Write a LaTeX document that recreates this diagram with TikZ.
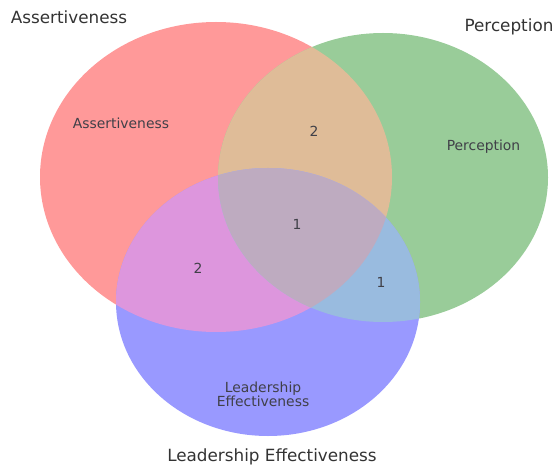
\documentclass[tikz,border=0pt]{standalone}
\usepackage{fontspec}
\setmainfont{DejaVu Sans}
\definecolor{ronly}{RGB}{255,153,153}
\definecolor{gonly}{RGB}{153,204,153}
\definecolor{bonly}{RGB}{153,153,255}
\definecolor{rg}{RGB}{223,188,152}
\definecolor{rb}{RGB}{221,150,221}
\definecolor{gb}{RGB}{153,187,223}
\definecolor{rgb}{RGB}{190,171,192}
\definecolor{settext}{RGB}{51,51,51}
\definecolor{regtext}{RGB}{64,64,72}
\tikzset{
  setlabel/.style={text=settext, font=\fontsize{16.8}{20}\selectfont, inner sep=0pt},
  reglabel/.style={text=regtext, font=\fontsize{13.9}{13}\selectfont, inner sep=0pt, align=center},
}
\newcommand{\redE}{(216,177) ellipse [x radius=176, y radius=155]}
\newcommand{\greenE}{(383,177.5) ellipse [x radius=165, y radius=144.5]}
\newcommand{\blueE}{(268,302) ellipse [x radius=152, y radius=134]}
\begin{document}
\begin{tikzpicture}[x=1pt,y=-1pt]
\useasboundingbox (0,0) rectangle (556,470);
\fill[ronly] \redE;
\fill[gonly] \greenE;
\fill[bonly] \blueE;
\begin{scope}\clip \redE; \fill[rg] \greenE; \end{scope}
\begin{scope}\clip \redE; \fill[rb] \blueE; \end{scope}
\begin{scope}\clip \greenE; \fill[gb] \blueE; \end{scope}
\begin{scope}\clip \redE; \clip \greenE; \fill[rgb] \blueE; \end{scope}
\node[setlabel] (setA) at (69,17) {Assertiveness};
\node[setlabel] (setP) at (509,27) {Perception};
\node[setlabel] (setL) at (272,457) {Leadership Effectiveness};
\node[reglabel] (rA) at (121,123) {Assertiveness};
\node[reglabel] (rP) at (483.5,146.5) {Perception};
\node[reglabel] (rL) at (263,394.5) {Leadership\\Effectiveness};
\node[reglabel] (rAP) at (314,131.5) {2};
\node[reglabel] (rAPL) at (297,224) {1};
\node[reglabel] (rAL) at (198,268.5) {2};
\node[reglabel] (rPL) at (381,282) {1};
\end{tikzpicture}
\end{document}
